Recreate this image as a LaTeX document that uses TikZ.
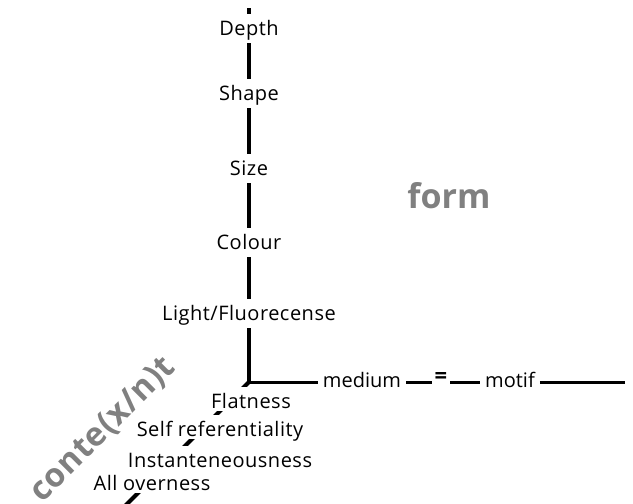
\documentclass[tikz,border=0pt]{standalone}
\usepackage{fontspec}
\setmainfont{Open Sans}
\newfontfamily\axisfont[LetterSpace=2.5]{Open Sans}
\newfontfamily\widefont[LetterSpace=2]{Open Sans}
\usetikzlibrary{positioning}
\definecolor{titlegrey}{RGB}{128,128,128}
\tikzset{
  axis/.style={line width=4pt,black},
  flataxis/.style={line width=3pt,black},
  term/.style={font=\axisfont\fontsize{20}{22}\selectfont,anchor=base,inner xsep=2pt,inner ysep=3pt,text height=18pt},
  upterm/.style={term,text depth=5pt},
  diagterm/.style={term,fill=white,text depth=0pt},
  sideterm/.style={font=\fontsize{20}{22}\selectfont,anchor=base,inner xsep=5pt,inner ysep=0pt},
  heading/.style={font=\bfseries\fontsize{34}{36}\selectfont,text=titlegrey},
}
\begin{document}
\begin{tikzpicture}[x=1pt,y=-1pt]
\clip (0,0) rectangle (633,504);
% \draw[help lines,step=50] (0,0) grid (633,504);
\coordinate (o) at (249,382);
\coordinate (top) at (249,8);
\coordinate (end) at (625,382);
\coordinate (low) at (105,526);
%
% depth axis first, the labels sit on top of it
\draw[axis] (o) -- (low);
%
\node (depth) [upterm] at (249,35) {Depth};
\node (shape) [upterm] at (249,100) {Shape};
\node (size) [upterm] at (249,175) {Size};
\node (colour) [upterm] at (249,249) {Colour};
\node (light) [upterm] at (249,320) {Light/Fluorecense};
%
\node (medium) [sideterm] at (362,387) {medium};
\node (eq) [sideterm,inner xsep=3pt,font=\bfseries\fontsize{22}{24}\selectfont] at (441,383) {=};
\node (motif) [sideterm] at (510,387) {motif};
%
\node (flat) [diagterm] at (251,408) {Flatness};
\node (selfref) [diagterm] at (220,436) {Self referentiality};
\node (inst) [diagterm] at (220,467) {Instanteneousness};
\node (allover) [diagterm] at (152,490) {All overness};
%
\node (form) [heading] at (449,196) {form};
\node (context) [heading,font=\widefont\bfseries\fontsize{33}{36}\selectfont,rotate=45] at (103,430) {conte(x/n)t};
%
\draw[axis] (top) -- (depth) -- (shape) -- (size) -- (colour) -- (light);
\draw[axis] (light) -- (o |- light.south) -- (o);
\draw[flataxis] ([xshift=-2pt]o) -- (medium.west |- o);
\draw[flataxis] (medium.east |- o) -- (eq.west |- o);
\draw[flataxis] (eq.east |- o) -- (motif.west |- o);
\draw[flataxis] (motif.east |- o) -- (end);
\end{tikzpicture}
\end{document}
